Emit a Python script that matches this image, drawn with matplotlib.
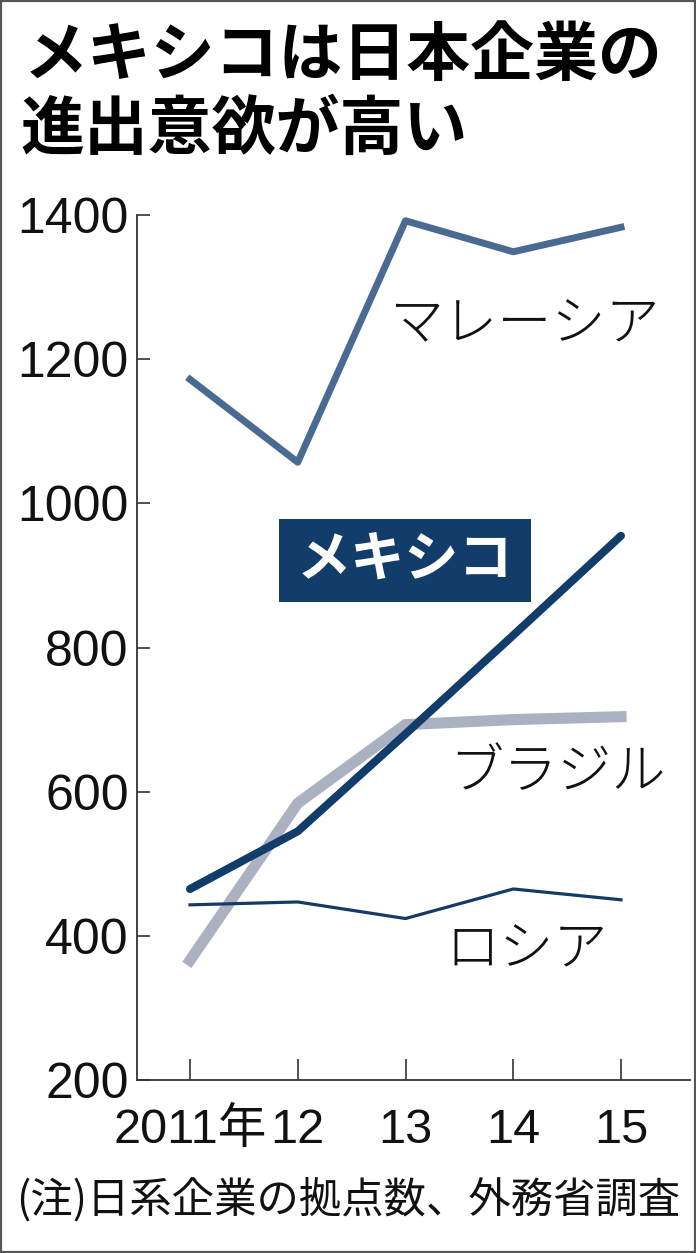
import matplotlib
matplotlib.use("Agg")
import matplotlib.pyplot as plt
from matplotlib.patches import Rectangle

plt.rcParams['font.family'] = ['Noto Sans CJK JP', 'DejaVu Sans']

# ---- data ----
years = [2011, 2012, 2013, 2014, 2015]
xtick_labels = ['2011年', '12', '13', '14', '15']
yticks = [200, 400, 600, 800, 1000, 1200, 1400]
malaysia = [1172, 1057, 1392, 1349, 1383]
mexico = [465, 545, 680, 817, 955]
brazil = [366, 584, 693, 700, 704]
russia = [443, 447, 424, 465, 450]

title_lines = ['メキシコは日本企業の', '進出意欲が高い']
note = '(注)日系企業の拠点数、外務省調査'

W, H = 696, 1253
fig = plt.figure(figsize=(W / 100, H / 100), dpi=100)
fig.patch.set_facecolor('white')

# axes placement (pixels)
L, R, T, B = 137, 690, 215, 1080
ax = fig.add_axes([L / W, 1 - B / H, (R - L) / W, (B - T) / H])
ax.set_facecolor('none')

num_font = ['Liberation Sans', 'Noto Sans CJK JP']

ax.plot(years, brazil, color='#aab2c2', lw=8.0, solid_joinstyle='miter', clip_on=False, zorder=2)
ax.plot(years, russia, color='#163a66', lw=2.3, clip_on=False, zorder=3)
ax.plot(years, malaysia, color='#4a6a92', lw=5.0, clip_on=False, zorder=3)
ax.plot(years, mexico, color='#123d6b', lw=5.8, solid_capstyle='round', clip_on=False, zorder=4)

ax.set_xlim(2011 - 53 / 107.75, 2015 + 69 / 107.75)
ax.set_ylim(200, 1400)

ax.set_xticks(years)
ax.set_xticklabels(xtick_labels)
ax.set_yticks(yticks)
ax.set_yticklabels([str(v) for v in yticks])

for side in ['top', 'right']:
    ax.spines[side].set_visible(False)
for side in ['left', 'bottom']:
    ax.spines[side].set_linewidth(1.3)
    ax.spines[side].set_color('#333333')

ax.tick_params(axis='y', direction='in', length=9.5, width=1.2, color='#333333', pad=6, labelsize=36)
ax.tick_params(axis='x', direction='in', length=15, width=1.2, color='#333333', pad=20, labelsize=35)
for lab in ax.get_xticklabels() + ax.get_yticklabels():
    lab.set_fontfamily(num_font)
    lab.set_color('#111111')

# series labels
lab_kw = dict(transform=ax.transAxes, ha='center', va='center', fontsize=39,
              color='#111111', fontweight='light')
ax.text(0.7016, 0.873, 'マレーシア', **lab_kw)
ax.text(0.7595, 0.355, 'ブラジル', **lab_kw)
ax.text(0.705, 0.150, 'ロシア', **lab_kw)

# Mexico boxed label
ax.add_patch(Rectangle(((279 - L) / (R - L), (B - 602) / (B - T)), 252 / (R - L), 83 / (B - T),
                       transform=ax.transAxes, facecolor='#123d6b', edgecolor='none', zorder=5,
                       clip_on=False))
ax.text((405 - L) / (R - L), (B - 560) / (B - T), 'メキシコ', transform=ax.transAxes,
        ha='center', va='center', fontsize=39, fontweight='bold', color='white', zorder=6)

# title
fig.text(24 / W, 1 - 56 / H, title_lines[0], ha='left', va='center', fontsize=46,
         fontweight='bold', color='#000000')
fig.text(20 / W, 1 - 130 / H, title_lines[1], ha='left', va='center', fontsize=46,
         fontweight='bold', color='#000000')

# footnote
fig.text(16 / W, 1 - 1200 / H, note, ha='left', va='center', fontsize=30.5, color='#111111')

# outer frame
fig.add_artist(Rectangle((0, 0), 1, 1, transform=fig.transFigure, fill=False,
                         edgecolor='#555555', lw=3))

fig.savefig('out.png', dpi=100)
